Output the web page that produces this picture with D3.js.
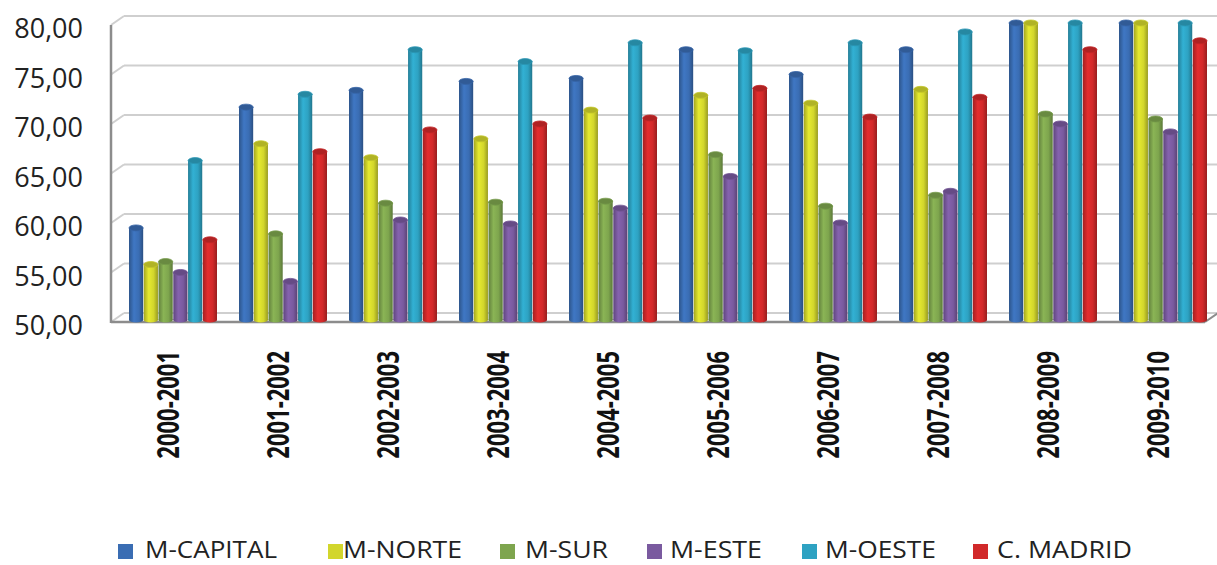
<!DOCTYPE html>
<html>
<head>
<meta charset="utf-8">
<script src="https://cdn.jsdelivr.net/npm/d3@7"></script>
<style>
  html, body { margin: 0; padding: 0; background: #fff; }
  svg { display: block; }
</style>
</head>
<body>
<svg id="chart" width="1217" height="565"></svg>
<script>
const categories = ["2000-2001","2001-2002","2002-2003","2003-2004","2004-2005","2005-2006","2006-2007","2007-2008","2008-2009","2009-2010"];
const seriesNames = ["M-CAPITAL","M-NORTE","M-SUR","M-ESTE","M-OESTE","C. MADRID"];
const mCapital = [59.3, 71.5, 73.2, 74.1, 74.4, 77.3, 74.8, 77.3, 80.0, 80.0];
const mNorte   = [55.6, 67.8, 66.4, 68.3, 71.2, 72.7, 71.9, 73.3, 80.0, 80.0];
const mSur     = [55.9, 58.7, 61.8, 61.9, 62.0, 66.7, 61.5, 62.6, 70.8, 70.3];
const mEste    = [54.8, 53.9, 60.1, 59.7, 61.3, 64.5, 59.8, 63.0, 69.8, 69.0];
const mOeste   = [66.1, 72.8, 77.3, 76.1, 78.0, 77.2, 78.0, 79.1, 80.0, 80.0];
const cMadrid  = [58.1, 67.0, 69.2, 69.8, 70.4, 73.4, 70.5, 72.5, 77.3, 78.2];
const yTicks = [50, 55, 60, 65, 70, 75, 80];
const seriesColors = ["#3a6db3", "#d2d62c", "#7ea54e", "#7a5a9f", "#2ea2c2", "#d1292a"];

const seriesValues = [mCapital, mNorte, mSur, mEste, mOeste, cMadrid];

const svg = d3.select("#chart");
const locale = d3.formatLocale({decimal: ",", thousands: ".", grouping: [3], currency: ["", "€"]});
const fmt = locale.format(".2f");

// scales
const yFront = d3.scaleLinear().domain([50, 80]).range([322, 25]);
const yBar = d3.scaleLinear().domain([50, 80]).range([320, 23]);
const depthX = 13, depthY = 9;
const x0 = d3.scaleBand().domain(categories).range([118, 1218]).paddingInner(0.2).paddingOuter(0.1);
const x1 = d3.scaleBand().domain(seriesNames).range([0, x0.bandwidth()]).paddingInner(0.04);
const color = d3.scaleOrdinal().domain(seriesNames).range(seriesColors);

// gradients for cylinder look
const defs = svg.append("defs");
seriesNames.forEach((s, i) => {
  const c = d3.color(seriesColors[i]);
  const g = defs.append("linearGradient").attr("id", "g" + i).attr("x1", "0").attr("x2", "1").attr("y1", "0").attr("y2", "0");
  g.append("stop").attr("offset", "0%").attr("stop-color", c.darker(0.7));
  g.append("stop").attr("offset", "35%").attr("stop-color", c.brighter(0.25));
  g.append("stop").attr("offset", "70%").attr("stop-color", c);
  g.append("stop").attr("offset", "100%").attr("stop-color", c.darker(0.9));
});

// back wall gridlines
const grid = svg.append("g");
const backLeft = 111 + depthX, backRight = 1217;
grid.selectAll("line.back").data(yTicks).join("line")
  .attr("x1", backLeft).attr("x2", backRight)
  .attr("y1", d => yFront(d) - depthY).attr("y2", d => yFront(d) - depthY)
  .attr("stroke", "#cfcfcf").attr("stroke-width", 2.2);
// side wall diagonals
grid.selectAll("line.side").data(yTicks).join("line")
  .attr("x1", 111).attr("x2", backLeft)
  .attr("y1", d => yFront(d)).attr("y2", d => yFront(d) - depthY)
  .attr("stroke", "#cfcfcf").attr("stroke-width", 2);
// left axis (front edge of side wall)
grid.append("line").attr("x1", 111).attr("x2", 111)
  .attr("y1", yFront(80)).attr("y2", yFront(50) + 1)
  .attr("stroke", "#8c8c8c").attr("stroke-width", 2.5);
// floor front edge
grid.append("line").attr("x1", 111).attr("x2", 1205)
  .attr("y1", yFront(50)).attr("y2", yFront(50))
  .attr("stroke", "#8c8c8c").attr("stroke-width", 2.5);
grid.append("line").attr("x1", 1205).attr("x2", 1205 + depthX)
  .attr("y1", yFront(50)).attr("y2", yFront(50) - depthY)
  .attr("stroke", "#8c8c8c").attr("stroke-width", 2);

// y axis labels
const yAxis = d3.axisLeft(yFront).tickValues(yTicks).tickSize(0).tickPadding(0).tickFormat(fmt);
const yg = svg.append("g").attr("transform", "translate(83,4)").call(yAxis);
yg.select(".domain").remove();
yg.selectAll("text")
  .attr("font-family", "'Open Sans', sans-serif")
  .attr("font-size", 27)
  .attr("fill", "#222")
  .attr("text-anchor", "end");

// bars
const groups = svg.append("g").selectAll("g").data(categories).join("g")
  .attr("transform", d => `translate(${x0(d)},0)`);
const barData = (c, ci) => seriesNames.map((s, si) => ({s, si, v: seriesValues[si][ci]}));
groups.each(function(c, ci) {
  const g = d3.select(this);
  const data = barData(c, ci);
  const w = x1.bandwidth();
  g.selectAll("rect").data(data).join("rect")
    .attr("x", d => x1(d.s))
    .attr("y", d => yBar(d.v))
    .attr("width", w)
    .attr("height", d => yBar(50) - yBar(d.v))
    .attr("fill", d => `url(#g${d.si})`);
  g.selectAll("ellipse.bot").data(data).join("ellipse").attr("class", "bot")
    .attr("cx", d => x1(d.s) + w / 2)
    .attr("cy", yBar(50))
    .attr("rx", w / 2).attr("ry", 2.5)
    .attr("fill", d => `url(#g${d.si})`);
  g.selectAll("ellipse.top").data(data).join("ellipse").attr("class", "top")
    .attr("cx", d => x1(d.s) + w / 2)
    .attr("cy", d => yBar(d.v))
    .attr("rx", w / 2).attr("ry", 3)
    .attr("fill", d => d3.color(seriesColors[d.si]).darker(0.5))
    .attr("stroke", d => d3.color(seriesColors[d.si]).darker(0.2))
    .attr("stroke-width", 0.8);
});

// x axis labels (rotated, horizontally stretched like the source image)
svg.append("g").selectAll("text").data(categories).join("text")
  .attr("transform", d => `translate(${x0(d) + x0.bandwidth() / 2 + 6},351) scale(1.4,1) rotate(-90)`)
  .attr("text-anchor", "end")
  .attr("font-family", "'Open Sans', sans-serif")
  .attr("font-weight", "bold")
  .attr("font-size", 22)
  .attr("fill", "#111")
  .text(d => d);

// legend
const legendX = [118, 328, 500, 647, 802, 973];
const legendTextX = [145, 343, 525, 670, 825, 997];
const legendW = [132, 119, 83, 92, 111, 135];
const lg = svg.append("g").selectAll("g").data(seriesNames).join("g");
lg.append("rect")
  .attr("x", (d, i) => legendX[i]).attr("y", 544)
  .attr("width", 15).attr("height", 15)
  .attr("fill", d => color(d));
lg.append("text")
  .attr("x", (d, i) => legendTextX[i]).attr("y", 558)
  .attr("font-family", "'Open Sans', sans-serif")
  .attr("font-size", 23)
  .attr("fill", "#222")
  .attr("textLength", (d, i) => legendW[i])
  .attr("lengthAdjust", "spacingAndGlyphs")
  .text(d => d);
</script>
</body>
</html>
